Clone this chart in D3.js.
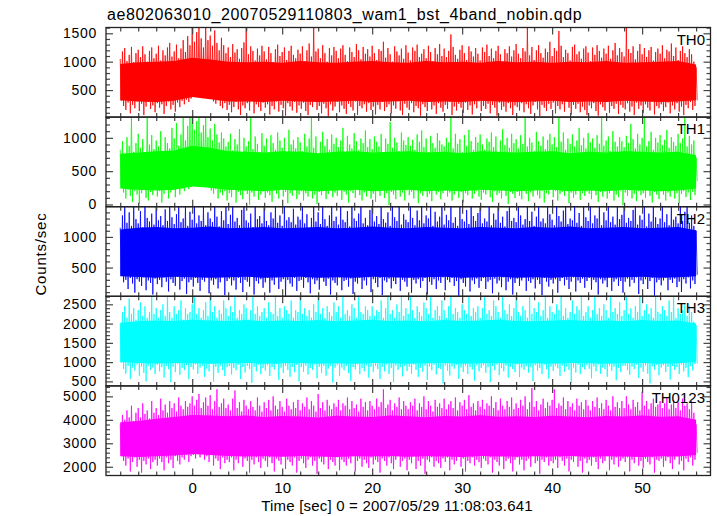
<!DOCTYPE html>
<html><head><meta charset="utf-8">
<script src="https://cdn.jsdelivr.net/npm/d3@7/dist/d3.min.js"></script>
<style>
body{margin:0;background:#fff;}
svg text{font-family:"Liberation Sans",Arial,Helvetica,sans-serif;fill:#000;}
</style></head><body>
<svg id="c" width="717" height="516"></svg>
<script>
// ---------- data ----------
const title = "ae802063010_20070529110803_wam1_bst_4band_nobin.qdp";
const xLabel = "Time [sec] 0 = 2007/05/29 11:08:03.641";
const yLabel = "Counts/sec";
const panelNames = ["TH0", "TH1", "TH2", "TH3", "TH0123"];
const xMajorTicks = [0, 10, 20, 30, 40, 50];
const xMinorTicks = [-8, -6, -4, -2, 2, 4, 6, 8, 12, 14, 16, 18, 22, 24, 26, 28, 32, 34, 36, 38, 42, 44, 46, 48, 52, 54, 56];
const yMajorTicks = [[500, 1000, 1500], [0, 500, 1000], [500, 1000], [500, 1000, 1500, 2000, 2500], [2000, 3000, 4000, 5000]];
const yMinorStep = [100, 100, 100, 100, 200];
const yDomains = [[24, 1602], [-33, 1311], [31, 1493], [383, 2708], [1627, 5445]];
const xDomain = [-9.58, 57.6];

// local peak (hi) of each 0.25 s slice; the local low follows 0.125 s later
const sampleTimes = d3.range(257).map(i => -8 + 0.25 * i);
// slowly varying dense core of each band, 2 s apart
const coreTimes = d3.range(33).map(i => -8 + 2 * i);

const th0Hi = [1050,1180,1240,1010,1120,1260,990,1150,1210,1080,1270,1130,1000,1190,1250,1060,
 1140,1280,1020,1200,1110,1250,1330,1090,1180,1300,1060,1230,1380,1170,1450,1290,
 1600,1350,1520,1600,1410,1250,1600,1380,1460,1280,1550,1330,1200,1420,1290,1150,
 1250,1080,1310,1160,1220,1050,1240,1340,1600,1130,1270,1190,1020,1230,1110,1280,
 1180,1040,1260,1150,990,1220,1300,1100,1170,1250,1030,1190,1280,1120,1060,1210,
 1140,1270,1010,1200,1320,1090,1600,1180,1230,1060,1290,1150,1000,1240,1110,1260,
 1190,1060,1230,1290,1120,1010,1250,1170,1080,1310,1200,1040,1260,1140,1220,1090,
 1280,1150,1030,1220,1190,1350,1070,1240,1130,1000,1270,1180,1110,1230,1050,1290,
 1160,1020,1250,1190,1300,1080,1140,1220,1060,1280,1170,1010,1240,1130,1310,1100,
 1230,1080,1190,1480,1260,1120,1050,1210,1290,1150,1030,1270,1180,1090,1240,1140,
 1020,1250,1170,1300,1100,1230,1060,1190,1280,1130,1000,1220,1150,1270,1090,1200,
 1310,1140,1060,1240,1180,1600,1110,1260,1030,1200,1290,1150,1070,1230,1170,1350,
 1100,1240,1190,1540,1280,1080,1210,1150,1020,1260,1300,1130,1180,1050,1230,1270,
 1160,1010,1250,1120,1290,1190,1070,1230,1140,1280,1050,1200,1330,1110,1240,1170,
 1090,1600,1220,1150,1270,1040,1190,1310,1130,1240,1080,1200,1260,1020,1170,1230,
 1140,1290,1060,1210,1180,1320,1100,1250,1030,1190,1270,1150,1080,1220,1130,1000,
 900];
const th0Lo = [310,220,150,280,90,240,180,300,130,260,60,210,290,170,230,110,
 270,190,250,80,220,300,160,240,120,280,200,310,250,330,290,350,
 420,380,450,400,360,430,390,410,350,300,260,320,220,180,270,150,
 240,110,200,290,160,60,230,180,270,140,310,90,250,200,130,280,
 190,250,70,220,160,300,120,240,180,50,270,210,140,290,100,230,
 170,280,130,60,240,200,300,150,220,90,260,180,40,250,140,210,
 290,110,230,170,80,260,200,140,300,60,220,180,250,120,270,150,
 210,70,240,160,290,130,200,250,90,230,170,300,140,60,260,190,
 150,270,110,220,180,50,250,200,130,290,160,230,80,270,190,120,
 240,170,290,60,210,140,260,190,100,280,150,230,70,250,180,300,
 130,220,170,260,90,240,190,50,280,150,210,120,270,180,60,230,
 200,140,270,110,250,180,80,230,290,160,40,240,190,130,260,170,
 280,90,220,160,250,120,300,190,70,240,170,260,110,210,150,60,
 230,180,270,130,50,250,200,140,290,100,220,170,260,80,240,190,
 160,270,120,210,60,280,170,230,100,250,190,140,300,70,220,180,
 250,130,200,280,90,230,160,270,120,210,60,240,180,290,150,220,
 320];
const th0CoreHi = [960,990,1000,1010,1070,1040,1000,990,1000,980,1010,990,980,1000,1010,990,980,1010,990,1000,980,1010,990,1000,980,1000,990,1010,980,990,1000,1010,950];
const th0CoreLo = [320,300,290,310,380,340,300,300,290,310,300,290,300,310,290,300,310,290,300,290,310,300,290,300,310,290,300,290,310,300,290,300,320];

const th1Hi = [820,950,760,1010,880,1300,790,920,1060,850,980,740,1300,900,1040,830,
 960,870,1100,780,1010,920,840,1150,990,1220,880,1050,1300,960,1180,1300,
 1300,1120,1250,1300,1080,1190,1300,1010,1140,960,1210,1050,930,1080,990,870,
 940,1060,810,980,900,1130,760,1000,870,950,1300,830,1020,910,790,1070,
 880,990,750,1040,920,820,1080,960,850,1000,790,1120,900,970,840,1010,
 930,800,1060,870,990,1300,850,1020,760,940,1090,880,980,820,1050,910,
 1000,860,960,1150,790,1030,900,840,1070,950,810,990,920,1110,860,980,
 830,1020,940,870,1060,780,990,910,1240,850,1000,930,800,1080,960,890,
 1010,880,970,820,1050,940,1110,860,990,780,1030,920,850,1070,960,900,
 870,1000,930,1300,840,1060,910,980,790,1040,880,1120,950,820,1010,930,
 1050,900,820,990,940,1080,860,1020,770,960,1130,890,1000,850,1060,920,
 980,840,1040,910,1300,870,1000,930,800,1090,950,880,1020,830,970,1060,
 900,1010,860,1300,940,1080,820,990,910,1050,870,960,1150,890,1000,840,
 1070,930,990,850,1040,910,1300,880,960,1020,800,1100,940,870,1010,950,
 860,1030,920,1210,980,840,1060,900,1000,1300,870,950,1090,820,1000,930,
 1040,890,970,1120,850,1010,940,880,1060,920,990,1300,870,1030,900,960,
 700];
const th1Lo = [300,180,90,220,130,40,200,150,10,170,230,100,60,190,140,220,
 120,200,30,160,240,90,180,220,110,260,150,240,200,280,230,260,
 290,320,270,340,300,280,330,250,210,160,230,90,180,140,200,60,
 170,110,220,30,190,140,80,210,160,0,180,120,230,70,150,200,
 100,180,140,40,210,160,90,230,120,190,20,170,130,220,80,150,
 200,60,170,120,230,90,150,10,190,140,210,80,160,230,110,180,
 130,220,70,190,150,30,200,170,100,240,140,60,180,120,210,90,
 160,40,200,130,230,100,170,-10,190,150,80,220,120,180,60,210,
 140,190,90,230,20,170,130,200,110,160,50,220,150,190,80,170,
 210,120,180,60,150,230,100,190,30,170,140,220,90,160,200,120,
 70,180,150,220,110,40,200,140,170,90,230,130,10,190,160,100,
 190,130,80,210,160,50,180,120,230,140,90,200,30,170,150,220,
 110,200,60,160,190,130,220,20,180,100,150,210,70,170,130,200,
 160,80,220,140,40,190,120,200,90,170,230,60,150,110,210,-10,
 180,130,210,90,160,50,200,140,170,100,220,130,30,190,150,80,
 200,150,60,180,120,220,90,170,20,160,200,110,180,70,190,140,
 350];
const th1CoreHi = [760,780,800,810,880,850,800,790,780,800,790,770,790,800,780,790,800,780,790,770,800,790,780,790,800,770,790,780,800,790,780,790,740];
const th1CoreLo = [240,220,210,220,270,250,220,210,200,220,210,200,210,220,200,210,220,200,210,200,220,210,200,210,220,200,210,200,220,210,200,210,240];

const th2Hi = [1150,1350,1489,1230,1400,1180,1489,1290,1220,1420,1160,1489,1310,1250,1380,1200,
 1489,1270,1340,1190,1450,1260,1489,1320,1210,1370,1489,1240,1300,1489,1180,1410,
 1280,1489,1220,1350,1260,1489,1190,1400,1300,1240,1489,1330,1170,1420,1270,1489,
 1210,1360,1489,1250,1310,1190,1440,1489,1270,1230,1380,1160,1489,1290,1340,1220,
 1489,1260,1190,1400,1300,1489,1230,1350,1180,1489,1270,1320,1240,1460,1200,1330,
 1280,1489,1220,1370,1150,1310,1489,1250,1400,1210,1489,1290,1180,1350,1489,1260,
 1330,1200,1489,1280,1240,1420,1170,1489,1300,1260,1380,1489,1220,1310,1190,1440,
 1489,1250,1340,1210,1489,1290,1230,1400,1180,1489,1320,1260,1489,1200,1370,1280,
 1240,1489,1310,1190,1430,1270,1489,1220,1350,1300,1489,1180,1410,1250,1330,1489,
 1200,1360,1270,1489,1230,1320,1180,1489,1290,1250,1440,1210,1489,1340,1260,1390,
 1489,1220,1300,1250,1489,1190,1380,1280,1489,1230,1330,1170,1420,1489,1260,1310,
 1240,1489,1350,1200,1290,1489,1260,1410,1180,1330,1489,1250,1300,1220,1489,1370,
 1280,1190,1489,1340,1250,1430,1489,1210,1300,1270,1489,1230,1390,1180,1489,1320,
 1260,1489,1220,1350,1300,1489,1190,1400,1270,1489,1240,1330,1200,1489,1290,1360,
 1489,1230,1310,1260,1440,1489,1200,1350,1280,1489,1170,1380,1250,1489,1320,1210,
 1300,1489,1240,1370,1190,1489,1280,1330,1220,1489,1260,1410,1489,1230,1350,1180,
 1100];
const th2Lo = [380,260,300,150,330,240,90,310,270,200,340,130,290,250,60,320,
 230,300,180,340,270,110,310,250,200,350,140,280,320,70,260,300,
 190,330,250,120,300,270,340,80,290,220,310,160,260,340,50,280,
 320,210,290,140,330,250,100,300,270,190,350,60,280,240,310,170,
 260,330,90,290,220,340,150,270,310,40,300,240,190,330,120,280,
 300,170,330,260,80,310,230,290,140,340,270,200,320,60,290,250,
 210,340,130,280,300,190,320,70,270,240,330,150,290,210,340,100,
 310,250,180,330,50,290,260,320,160,280,230,340,120,300,270,190,
 340,90,300,240,310,170,280,330,60,270,220,310,150,290,250,340,
 130,300,260,330,200,280,40,310,250,190,340,110,290,230,320,170,
 280,330,150,270,300,80,320,240,290,180,340,130,270,310,60,250,
 320,200,290,340,120,280,250,310,160,300,230,50,330,270,190,300,
 240,310,90,280,330,210,300,150,270,340,110,290,250,320,170,280,
 330,140,300,260,60,310,240,290,180,340,120,270,310,200,280,90,
 270,320,190,300,250,340,70,290,230,310,150,280,330,40,260,300,
 210,290,330,130,300,250,320,180,270,100,310,240,340,160,290,230,
 380];
const th2CoreHi = [1120,1150,1160,1140,1150,1170,1140,1150,1160,1140,1150,1160,1140,1150,1170,1150,1140,1160,1150,1140,1160,1150,1140,1160,1150,1170,1140,1150,1160,1140,1150,1160,1110];
const th2CoreLo = [360,345,335,350,340,335,340,350,335,340,350,335,340,335,350,340,335,340,350,335,340,350,335,340,335,350,340,335,340,350,335,340,360];

const th3Hi = [2000,2300,2450,2150,2650,2250,2400,2100,2350,2550,2200,2450,2150,2300,2690,2250,
 2400,2150,2350,2500,2200,2690,2300,2150,2450,2250,2350,2600,2100,2400,2250,2300,
 2500,2690,2250,2400,2150,2350,2550,2200,2690,2300,2450,2150,2350,2250,2600,2400,
 2200,2450,2300,2690,2150,2350,2250,2500,2400,2100,2350,2690,2250,2450,2200,2300,
 2400,2150,2550,2300,2250,2690,2200,2400,2150,2450,2350,2250,2600,2150,2350,2300,
 2690,2250,2400,2200,2350,2150,2500,2300,2690,2250,2400,2150,2450,2300,2200,2550,
 2300,2450,2150,2690,2250,2350,2200,2500,2400,2150,2690,2300,2250,2450,2350,2200,
 2450,2200,2350,2300,2600,2150,2400,2690,2250,2350,2150,2500,2300,2690,2200,2400,
 2250,2690,2350,2150,2450,2300,2200,2550,2400,2250,2690,2150,2350,2450,2200,2600,
 2350,2150,2450,2690,2250,2400,2300,2150,2500,2350,2250,2690,2200,2400,2300,2450,
 2150,2400,2690,2250,2350,2200,2600,2450,2300,2150,2690,2350,2250,2500,2200,2400,
 2690,2300,2200,2450,2350,2150,2690,2250,2400,2300,2550,2200,2350,2690,2150,2450,
 2300,2250,2500,2350,2690,2200,2400,2150,2300,2600,2250,2450,2350,2690,2200,2300,
 2450,2150,2350,2690,2250,2400,2200,2500,2350,2150,2690,2300,2400,2250,2550,2200,
 2350,2690,2250,2400,2150,2450,2300,2690,2200,2350,2500,2250,2400,2150,2690,2300,
 2250,2450,2350,2200,2600,2300,2690,2150,2400,2250,2350,2500,2200,2450,2300,2050,
 1950];
const th3Lo = [980,820,700,900,560,860,780,940,650,880,720,500,910,800,860,690,
 930,760,870,600,900,820,480,880,740,950,670,850,790,920,560,870,
 810,940,700,860,900,620,830,760,950,500,880,720,910,800,640,870,
 900,680,850,790,940,560,870,730,900,820,460,880,760,930,690,850,
 780,920,640,870,810,950,540,860,720,900,800,620,880,740,930,500,
 870,750,910,680,850,800,940,580,880,720,900,650,830,910,470,860,
 930,640,860,790,900,720,510,870,810,940,690,850,760,920,600,880,
 740,900,820,560,880,760,940,690,850,480,910,800,870,630,900,770,
 880,700,940,800,620,860,750,910,540,880,790,930,680,850,820,450,
 910,780,650,890,830,940,570,860,740,900,690,870,810,520,920,760,
 850,920,720,870,480,900,790,940,660,850,760,910,600,880,820,740,
 940,610,860,800,900,730,870,510,920,780,850,690,940,820,570,880,
 770,900,840,640,910,750,880,800,470,860,730,930,690,870,810,920,
 830,580,890,760,940,700,860,820,620,910,780,880,530,850,740,900,
 900,790,670,880,820,940,590,860,750,910,700,450,890,810,930,660,
 860,920,740,880,550,900,800,870,690,940,760,850,610,900,780,950,
 960];
const th3CoreHi = [2020,2060,2080,2070,2100,2080,2070,2090,2060,2080,2070,2090,2060,2080,2100,2070,2080,2060,2090,2070,2080,2100,2070,2060,2080,2090,2070,2080,2060,2090,2070,2080,2000];
const th3CoreLo = [1000,975,965,980,970,960,970,980,960,970,980,960,970,960,980,970,960,970,980,960,970,980,960,970,960,980,970,960,970,980,960,970,1000];

const th0123Hi = [3800,4200,4000,4400,4100,4600,3950,4300,4500,4100,4700,4250,4400,4050,4800,4300,
 4500,4200,4900,4400,4650,4300,4800,4500,4700,4350,4950,4600,4450,4800,4550,4700,
 5000,4600,4850,5100,4500,4750,4950,4600,5050,4450,4800,5300,4550,4700,4900,4500,
 4650,4400,4900,5250,4500,4750,4350,4850,4600,4450,4800,4550,4400,4950,4600,4350,
 4750,4500,4850,4400,5000,4600,4450,4800,4550,4350,4900,4600,4450,4750,4500,4850,
 4400,4700,4550,4950,4450,4800,4600,4350,5100,4500,4750,4400,4850,4600,4450,4700,
 4550,4850,4400,4700,4600,4950,4450,4800,4500,4650,4350,4900,4550,4750,4400,4800,
 4600,4450,4900,4550,4750,5300,4500,4650,4850,4400,4700,4550,4950,4450,4800,4600,
 4450,4750,4600,4900,4400,4700,4550,5000,4450,4800,4600,4350,4850,4550,4700,4500,
 4900,4450,4650,4800,4500,4950,4400,4750,4600,4850,4450,5050,4550,4700,4400,4800,
 4550,4850,4450,4700,4600,5000,4500,4750,4400,4900,4600,4450,4800,4550,4950,4450,
 4700,4500,4850,4600,5000,4450,4750,5350,4550,4800,4400,4650,4900,4500,4750,4600,
 4850,5300,4500,4700,4600,4950,4450,4800,4550,4700,4400,4900,4600,4750,4450,4850,
 4600,4400,4800,4550,4950,4500,4700,4450,4850,4600,4400,5000,4550,4750,4500,4800,
 4500,5000,4650,4450,4850,4550,4750,4400,5200,4600,4800,4450,4700,4900,4550,4650,
 4800,4500,4700,4950,4450,4650,4850,4500,4750,4400,4900,4600,4700,4450,4800,4300,
 3800];
const th0123Lo = [2500,2250,2050,2350,1800,2200,2400,2000,2300,1750,2250,2100,2350,1900,2200,2300,
 2050,2350,2200,1850,2400,2150,2300,1950,2450,2250,2100,2400,2300,2500,2200,2450,
 2500,2350,2600,2400,2550,2300,2450,2200,2500,2050,2350,2250,1900,2400,2150,2300,
 2200,2400,1850,2300,2150,2450,2000,2350,2250,1750,2300,2100,2400,2200,1950,2350,
 2250,2000,2400,2150,1800,2350,2250,2100,2450,1900,2300,2200,2050,2400,1750,2250,
 2350,2150,1950,2300,2400,2050,2250,1700,2350,2200,2100,2450,1900,2300,2200,2050,
 2400,1850,2300,2200,2050,2350,2150,2450,1800,2250,2350,2000,2300,2150,1950,2400,
 2100,2300,2200,1750,2350,2250,2050,2400,2150,1900,2300,2450,2000,2250,2350,1850,
 2300,2150,2450,1900,2250,2050,2350,1700,2300,2200,2400,2000,2250,2150,1950,2350,
 2200,2400,1850,2300,2100,2250,2450,2000,2350,1800,2250,2150,2400,2050,2300,2200,
 1950,2350,2250,2100,2400,1750,2300,2200,2050,2450,1900,2250,2350,2150,1800,2300,
 2400,2100,2300,1850,2250,2350,2000,2450,2150,2250,1700,2300,2200,2400,2050,2250,
 2150,2300,1950,2400,2250,2050,2350,1800,2300,2200,2450,2000,2250,1750,2350,2150,
 2300,2050,2400,2200,1900,2350,2150,2250,2450,1850,2300,2100,2400,2000,2250,2350,
 2200,2400,1800,2300,2150,2450,2050,2250,1950,2350,2200,2100,2400,1750,2300,2250,
 2350,2000,2250,2400,2150,1900,2300,2450,2100,2250,1850,2350,2200,2400,2050,2300,
 2600];
const th0123CoreHi = [3900,3950,4050,4120,4200,4180,4150,4180,4120,4160,4140,4100,4170,4140,4120,4180,4150,4110,4160,4140,4190,4130,4150,4120,4170,4140,4110,4160,4140,4180,4130,4150,4000];
const th0123CoreLo = [2450,2420,2450,2480,2540,2500,2460,2440,2450,2430,2460,2440,2420,2450,2440,2460,2430,2450,2440,2420,2460,2440,2430,2450,2440,2460,2430,2450,2440,2420,2450,2440,2500];

const seriesHi = [th0Hi, th1Hi, th2Hi, th3Hi, th0123Hi];
const seriesLo = [th0Lo, th1Lo, th2Lo, th3Lo, th0123Lo];
const coreHi = [th0CoreHi, th1CoreHi, th2CoreHi, th3CoreHi, th0123CoreHi];
const coreLo = [th0CoreLo, th1CoreLo, th2CoreLo, th3CoreLo, th0123CoreLo];
const colors = ["#ff0000", "#00ff00", "#0000ff", "#00ffff", "#ff00ff"];

// ---------- drawing ----------
const svg = d3.select("#c");
const L = 106, R = 710.5, T = 27.5, B = 475.5;
const ph = (B - T) / 5;
const x = d3.scaleLinear().domain(xDomain).range([L, R]);
const defs = svg.append("defs");
const FONT = "Liberation Sans, Arial, sans-serif";

svg.append("text").attr("x", 107).attr("y", 20)
  .style("font-size", "16px").style("letter-spacing", "0.6px").text(title);

for (let p = 0; p < 5; p++) {
  const top = T + p * ph, bot = top + ph;
  const y = d3.scaleLinear().domain(yDomains[p]).range([bot, top]);
  defs.append("clipPath").attr("id", "clip" + p)
    .append("rect").attr("x", L).attr("y", top).attr("width", R - L).attr("height", ph);
  const g = svg.append("g").attr("clip-path", `url(#clip${p})`);

  const core = coreTimes.map((t, i) => ({t, lo: coreLo[p][i], hi: coreHi[p][i]}));
  g.append("path").datum(core)
    .attr("d", d3.area().x(d => x(d.t)).y0(d => y(d.lo)).y1(d => y(d.hi)))
    .attr("fill", colors[p]);

  const pts = [];
  sampleTimes.forEach((t, i) => {
    pts.push([t, seriesHi[p][i]]);
    pts.push([t + 0.125, seriesLo[p][i]]);
  });
  g.append("path").datum(pts)
    .attr("d", d3.line().x(d => x(d[0])).y(d => y(d[1])))
    .attr("fill", "none").attr("stroke", colors[p]).attr("stroke-width", 0.8);

  // y ticks
  const [d0, d1] = yDomains[p];
  const st = yMinorStep[p];
  const minorY = d3.range(Math.ceil(d0 / st) * st, d1, st).filter(v => !yMajorTicks[p].includes(v));
  const tickStyle = sel => { sel.select(".domain").remove(); sel.selectAll("line").attr("stroke", "#444").attr("stroke-width", 1.2); };
  svg.append("g").attr("transform", `translate(${L},0)`)
    .call(d3.axisLeft(y).tickValues(yMajorTicks[p]).tickSize(-7).tickPadding(9).tickFormat(d3.format("d")))
    .call(tickStyle)
    .call(s => s.selectAll("text").style("font-size", "14px").style("letter-spacing", "0.7px")
      .style("font-family", FONT).attr("fill", "#000"));
  svg.append("g").attr("transform", `translate(${L},0)`)
    .call(d3.axisLeft(y).tickValues(minorY).tickSize(-4).tickFormat("")).call(tickStyle);
  svg.append("g").attr("transform", `translate(${R},0)`)
    .call(d3.axisRight(y).tickValues(yMajorTicks[p]).tickSize(-7).tickFormat("")).call(tickStyle);
  svg.append("g").attr("transform", `translate(${R},0)`)
    .call(d3.axisRight(y).tickValues(minorY).tickSize(-4).tickFormat("")).call(tickStyle);

  // x ticks, top and bottom of each panel
  svg.append("g").attr("transform", `translate(0,${top})`)
    .call(d3.axisTop(x).tickValues(xMajorTicks).tickSize(-7).tickFormat("")).call(tickStyle);
  svg.append("g").attr("transform", `translate(0,${top})`)
    .call(d3.axisTop(x).tickValues(xMinorTicks).tickSize(-4).tickFormat("")).call(tickStyle);
  const bx = svg.append("g").attr("transform", `translate(0,${bot})`)
    .call(d3.axisBottom(x).tickValues(xMajorTicks).tickSize(-7).tickPadding(7)
      .tickFormat(p === 4 ? d3.format("d") : ""))
    .call(tickStyle);
  bx.selectAll("text").style("font-size", "15px").style("font-family", FONT).attr("fill", "#000");
  svg.append("g").attr("transform", `translate(0,${bot})`)
    .call(d3.axisBottom(x).tickValues(xMinorTicks).tickSize(-4).tickFormat("")).call(tickStyle);

  // frame
  svg.append("rect").attr("x", L).attr("y", top).attr("width", R - L).attr("height", ph)
    .attr("fill", "none").attr("stroke", "#222").attr("stroke-width", 1.3);

  svg.append("text").attr("x", 705).attr("y", top + 17).attr("text-anchor", "end")
    .style("font-size", "15px").text(panelNames[p]);
}

svg.append("text").attr("x", 397).attr("y", 511).attr("text-anchor", "middle")
  .style("font-size", "15px").style("letter-spacing", "0.2px").text(xLabel);
svg.append("text").attr("transform", "translate(46,254) rotate(-90)").attr("text-anchor", "middle")
  .style("font-size", "15px").style("letter-spacing", "0.8px").text(yLabel);
</script>
</body></html>
